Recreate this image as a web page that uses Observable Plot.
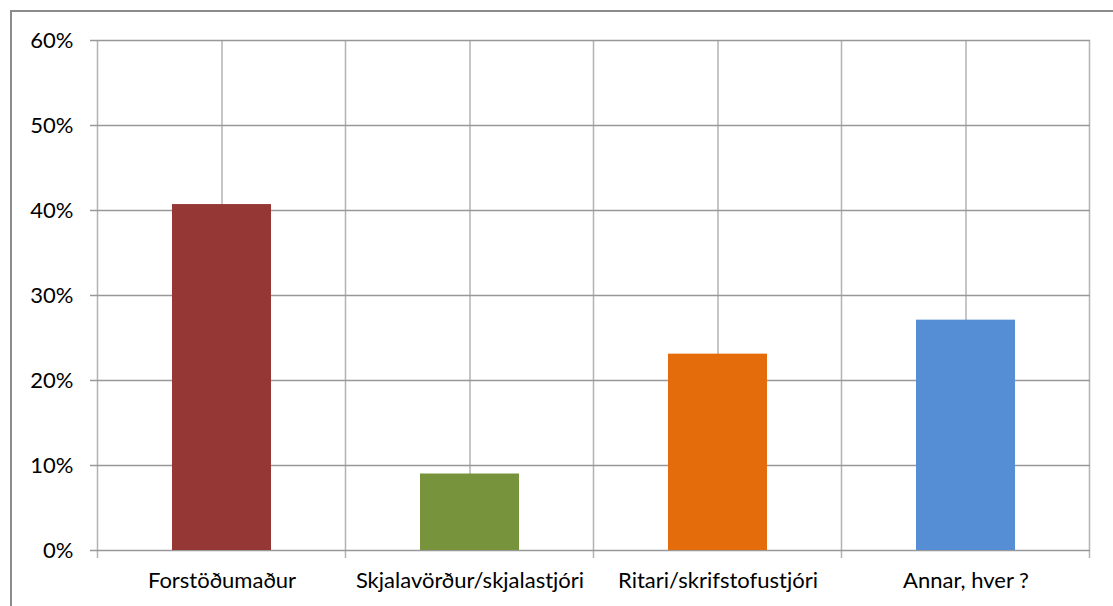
<!DOCTYPE html>
<html><head><meta charset="utf-8">
<script src="https://cdn.jsdelivr.net/npm/d3@7"></script>
<script src="https://cdn.jsdelivr.net/npm/@observablehq/plot@0.6"></script>
<style>
body{margin:0;background:#fff;}
#wrap{position:relative;width:1113px;height:606px;overflow:hidden;background:#fff;}
#chart{position:absolute;left:0;top:0;}
#frame{position:absolute;left:10px;top:10px;width:1200px;height:700px;border:2px solid #8c8c8c;pointer-events:none;}
</style>
</head><body>
<div id="wrap"><div id="chart"></div><div id="frame"></div></div>
<script>
const categories = ["Forstöðumaður", "Skjalavörður/skjalastjóri", "Ritari/skrifstofustjóri", "Annar, hver ?"];
const values = [0.407, 0.090, 0.231, 0.271];
const colors = ["#953735", "#77933C", "#E46C0A", "#558ED5"];
const yTicks = [0, 0.1, 0.2, 0.3, 0.4, 0.5, 0.6];

const data = categories.map((c, i) => ({category: c, value: values[i], color: colors[i]}));

const FONT = "Lato, 'Open Sans', sans-serif";
const VGRID = "#b3b3b3";
const HGRID = "#989898";

// category boundary gridlines + tick marks, derived from the band scale
function boundaryLines(index, scales, vals, dims, context) {
  const x = scales.x;
  const step = x.step(), bw = x.bandwidth();
  const half = (step - bw) / 2;
  const g = d3.create("svg:g");
  const bottom = dims.height - dims.marginBottom;
  const top = dims.marginTop;
  const pos = categories.map(c => x(c) - half);
  pos.push(x(categories[categories.length - 1]) + bw + half);
  for (const p of pos) {
    g.append("line")
      .attr("x1", p).attr("x2", p)
      .attr("y1", top).attr("y2", bottom + 8)
      .attr("stroke", VGRID).attr("stroke-width", 1.5);
  }
  return g.node();
}

const chart = Plot.plot({
  width: 1113,
  height: 606,
  marginLeft: 98,
  marginRight: 23,
  marginTop: 40,
  marginBottom: 56,
  style: {fontFamily: FONT, fontSize: "22px", color: "#000", background: "transparent"},
  x: {domain: categories, paddingInner: 0.6, paddingOuter: 0.3, label: null},
  y: {domain: [0, 0.6], label: null},
  marks: [
    Plot.gridX({stroke: VGRID, strokeOpacity: 1, strokeWidth: 1.5}),
    boundaryLines,
    Plot.ruleY(yTicks, {stroke: HGRID, strokeWidth: 1.5}),
    Plot.barY(data, {x: "category", y: "value", fill: "color"}),
    Plot.axisY({ticks: yTicks, tickFormat: d3.format(".0%"), tickSize: 8, tickPadding: 17,
      stroke: HGRID, strokeWidth: 1.5, strokeOpacity: 1, fontSize: 22, fill: "#000", label: null}),
    Plot.axisX({tickSize: 0, tickPadding: 22, fontSize: 22, fill: "#000", label: null})
  ]
});
document.getElementById("chart").appendChild(chart);
</script>
</body></html>
